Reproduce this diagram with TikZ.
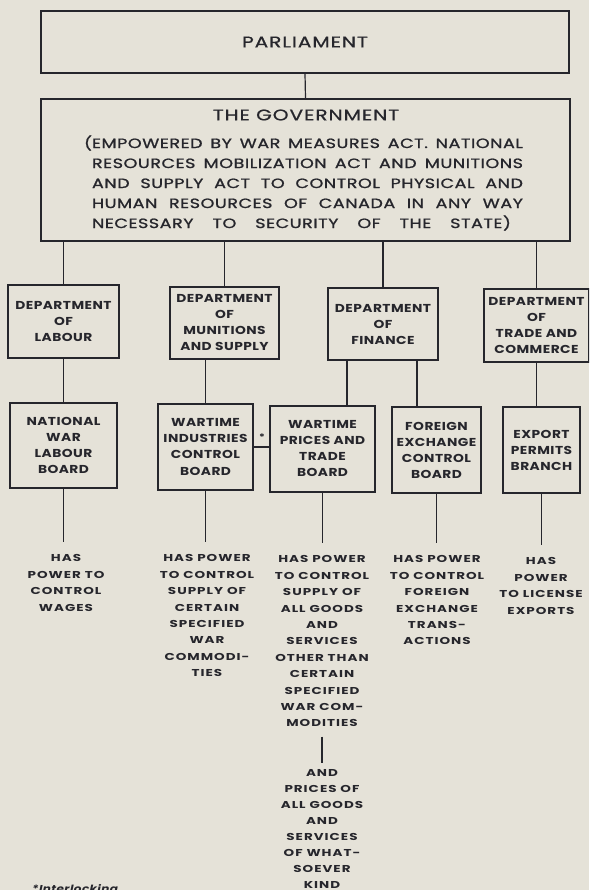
\documentclass[tikz,border=0pt]{standalone}
\usepackage{fontspec}
\setmainfont{Poppins}
\newfontfamily\unitfont{Poppins}[FakeStretch=1.2, LetterSpace=4]
\newfontfamily\headfont{Poppins}[FakeStretch=1.3, LetterSpace=6, FakeBold=0.8]
\newfontfamily\parafont{Poppins}[FakeStretch=1.3, LetterSpace=4, FakeBold=1.2]
\newfontfamily\powerfont{Poppins}[FakeStretch=1.35, LetterSpace=10]
\usetikzlibrary{positioning}
\definecolor{paper}{RGB}{229,226,216}
\definecolor{ink}{RGB}{38,38,44}
\newcommand{\fullline}[2][431pt]{\makebox[#1][s]{#2}}

\tikzset{
  unit/.style={draw=ink, line width=1.2pt, text=ink, align=center, inner sep=0pt,
    font=\unitfont\bfseries\fontsize{11.5}{16}\selectfont},
  power/.style={text=ink, align=center, inner sep=0pt, anchor=north,
    font=\powerfont\bfseries\fontsize{10}{16.4}\selectfont},
  link/.style={draw=ink, line width=1.2pt},
}

\begin{document}
\begin{tikzpicture}[x=1pt, y=-1pt]
  % Paper and page size
  \fill[paper] (0,0) rectangle (589,890);
  \useasboundingbox (0,0) rectangle (589,890);
  \clip (0,0) rectangle (589,890);

  % Parliament and the government
  \node[unit, minimum width=528pt, minimum height=62pt,
    font=\headfont\fontsize{15.5}{18}\selectfont] (parl) at (305,42) {PARLIAMENT};
  \node[unit, minimum width=529pt, minimum height=142pt] (gov) at (305.5,170) {};
  \node[text=ink, inner sep=0pt, font=\headfont\fontsize{15.5}{18}\selectfont]
    (gov-title) at (306,115) {THE GOVERNMENT};
  \node[text=ink, inner sep=0pt, align=left,
    font=\parafont\fontsize{13.5}{20}\selectfont] (gov-text) at (307.5,183)
    {\llap{(}\fullline{EMPOWERED BY WAR MEASURES ACT. NATIONAL}\\
     \fullline{RESOURCES MOBILIZATION ACT AND MUNITIONS}\\
     \fullline{AND SUPPLY ACT TO CONTROL PHYSICAL AND}\\
     \fullline{HUMAN RESOURCES OF CANADA IN ANY WAY}\\
     \fullline[419pt]{NECESSARY TO SECURITY OF THE STATE)}};
  \draw[link] (parl.south) -- (gov.north);

  % Departments
  \node[unit, minimum width=111pt, minimum height=73pt] (lab) at (63.5,321.5) {DEPARTMENT\\OF\\LABOUR};
  \node[unit, minimum width=109pt, minimum height=72pt] (mun) at (224.5,323) {DEPARTMENT\\OF\\MUNITIONS\\AND SUPPLY};
  \node[unit, minimum width=110pt, minimum height=72pt] (fin) at (383,324) {DEPARTMENT\\OF\\FINANCE};
  \node[unit, minimum width=105pt, minimum height=73pt] (trd) at (536.5,325.5) {DEPARTMENT\\OF\\TRADE AND\\COMMERCE};
  \foreach \d in {lab,mun,fin,trd}
    \draw[link] (\d.north) -- (\d.north |- gov.south);

  % Boards
  \node[unit, minimum width=107pt, minimum height=85pt] (nwlb) at (63.5,445.5) {NATIONAL\\WAR\\LABOUR\\BOARD};
  \node[unit, minimum width=95pt, minimum height=86pt] (wic) at (205.5,447) {WARTIME\\INDUSTRIES\\CONTROL\\BOARD};
  \node[unit, minimum width=105pt, minimum height=86pt] (wptb) at (322.5,449) {WARTIME\\PRICES AND\\TRADE\\BOARD};
  \node[unit, minimum width=89pt, minimum height=86pt] (fecb) at (436.5,450) {FOREIGN\\EXCHANGE\\CONTROL\\BOARD};
  \node[unit, minimum width=77pt, minimum height=86pt] (epb) at (541.5,450) {EXPORT\\PERMITS\\BRANCH};
  \draw[link] (lab.south) -- (nwlb.north);
  \draw[link] (wic.north) -- (wic.north |- mun.south);
  \draw[link] ([xshift=-36pt]fin.south) -- ([xshift=-36pt]fin.south |- wptb.north);
  \draw[link] ([xshift=34pt]fin.south) -- ([xshift=34pt]fin.south |- fecb.north);
  \draw[link] (trd.south) -- (trd.south |- epb.north);

  % Interlocking boards
  \draw[link] (wic.east) -- (wic.east -| wptb.west);
  \node[text=ink, inner sep=0pt, font=\unitfont\bfseries\fontsize{9}{9}\selectfont] (star) at (262,437) {*};

  % Powers of each board
  \node[power] (nwlb-txt) at (66,554.5) {HAS\\POWER TO\\CONTROL\\WAGES};
  \node[power] (wic-txt) at (207,554.5) {HAS POWER\\TO CONTROL\\SUPPLY OF\\CERTAIN\\SPECIFIED\\WAR\\COMMODI-\\TIES};
  \node[power] (wptb-txt) at (322,555.5) {HAS POWER\\TO CONTROL\\SUPPLY OF\\ALL GOODS\\AND\\SERVICES\\OTHER THAN\\CERTAIN\\SPECIFIED\\WAR COM-\\MODITIES};
  \node[power] (fecb-txt) at (437,555.5) {HAS POWER\\TO CONTROL\\FOREIGN\\EXCHANGE\\TRANS-\\ACTIONS};
  \node[power] (epb-txt) at (541,557.5) {HAS\\POWER\\TO LICENSE\\EXPORTS};
  \foreach \b in {nwlb,wic,wptb,fecb,epb}
    \draw[link] (\b.south) -- ([yshift=13pt]\b-txt.north -| \b.south);

  % Prices as well
  \node[power, font=\powerfont\bfseries\fontsize{10}{16}\selectfont]
    (wptb-more) at (322,769) {AND\\PRICES OF\\ALL GOODS\\AND\\SERVICES\\OF WHAT-\\SOEVER\\KIND};
  \draw[ink, line width=1.6pt] ([yshift=-9.5pt]wptb-txt.south) -- ([yshift=6pt]wptb-more.north);

  % Footnote, cut by the page edge
  \node[anchor=north west, text=ink, inner sep=0pt,
    font=\unitfont\bfseries\itshape\fontsize{10}{12}\selectfont] (note) at (32,884) {*Interlocking};
\end{tikzpicture}
\end{document}
